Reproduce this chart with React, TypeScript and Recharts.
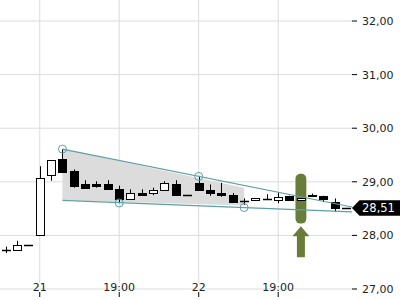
import {
  ComposedChart,
  Bar,
  Area,
  XAxis,
  YAxis,
  CartesianGrid,
  ReferenceLine,
  ReferenceDot,
  ReferenceArea,
} from 'recharts';

// candle values, one entry per bar (index 0..30)
const opens = [27.73, 27.73, 27.82, 28.0, 29.13, 29.43, 29.2, 28.96, 28.95, 28.96, 28.86, 28.68, 28.8, 28.79, 28.84, 28.95, 28.75, 28.97, 28.85, 28.79, 28.75, 28.65, 28.66, 28.67, 28.66, 28.74, 28.66, 28.76, 28.74, 28.63, 28.51];
const highs = [27.79, 27.9, 27.82, 29.29, 29.4, 29.61, 29.23, 29.03, 29.01, 29.03, 28.93, 28.86, 28.86, 28.89, 29.01, 29.03, 28.75, 29.11, 28.95, 28.98, 28.79, 28.69, 28.69, 28.77, 28.8, 28.74, 28.69, 28.78, 28.74, 28.69, 28.51];
const lows = [27.67, 27.73, 27.82, 28.0, 29.02, 29.19, 28.89, 28.89, 28.89, 28.86, 28.6, 28.68, 28.75, 28.75, 28.84, 28.75, 28.75, 28.84, 28.74, 28.72, 28.63, 28.57, 28.66, 28.67, 28.6, 28.66, 28.66, 28.74, 28.62, 28.44, 28.51];
const closes = [27.73, 27.82, 27.82, 29.08, 29.4, 29.19, 28.93, 28.89, 28.93, 28.86, 28.67, 28.8, 28.75, 28.84, 28.97, 28.75, 28.75, 28.84, 28.79, 28.75, 28.63, 28.65, 28.69, 28.67, 28.72, 28.66, 28.69, 28.74, 28.67, 28.52, 28.51];

const xTickIdx = [3, 10, 17, 24];
const xTickLabels = ['21', '19:00', '22', '19:00'];
const yTicks = [27, 28, 29, 30, 31, 32];

// wedge pattern
const wedgeIdx = [5, 21];
const wedgeTop = [29.61, 28.89];
const wedgeBottom = [28.655, 28.56];
const upperLine = [{ x: 5, y: 29.61 }, { x: 30.5, y: 28.53 }];
const lowerLine = [{ x: 5, y: 28.655 }, { x: 30.5, y: 28.44 }];
const touchIdx = [5, 17, 10, 21];
const touchVal = [29.61, 29.1, 28.605, 28.52];

// signal marker
const signalIdx = 26;
const signalRange = [28.22, 29.15];
const arrowTip = 28.17;
const lastPrice = 28.51;

const teal = '#5d9fa6';
const olive = '#6a7c3a';

const data = opens.map((open, i) => {
  const w = wedgeIdx.indexOf(i);
  return {
    i,
    open,
    close: closes[i],
    high: highs[i],
    low: lows[i],
    range: [lows[i], highs[i]],
    wedge: w >= 0 ? [wedgeBottom[w], wedgeTop[w]] : null,
  };
});

const fmt = (v: number) => v.toFixed(2).replace('.', ',');

function Candle(props: any) {
  const { x, y, width, height, payload } = props;
  const { open, close, high, low } = payload;
  const cx = Math.round(x + width / 2) + 0.5;
  const span = high - low;
  const yOf = (v: number) => (span > 0 ? y + ((high - v) / span) * height : y);
  const top = Math.round(yOf(Math.max(open, close))) + 0.5;
  const bottom = Math.round(yOf(Math.min(open, close))) + 0.5;
  return (
    <g>
      <line x1={cx} x2={cx} y1={yOf(high)} y2={yOf(low)} stroke="#000" />
      {bottom - top < 1 ? (
        <line x1={cx - 4.5} x2={cx + 4.5} y1={top} y2={top} stroke="#000" strokeWidth={1.5} />
      ) : (
        <rect x={cx - 4} y={top} width={8} height={bottom - top} fill={close > open ? '#fff' : '#000'} stroke="#000" />
      )}
    </g>
  );
}

function XTick(props: any) {
  const { x, y, payload } = props;
  const label = xTickLabels[xTickIdx.indexOf(payload.value)];
  return (
    <g>
      <text x={x} y={y - 8} textAnchor="middle" fontSize={11} fill="#222">
        {label}
      </text>
      <line x1={x} x2={x} y1={y - 7} y2={y - 2} stroke="#000" />
    </g>
  );
}

function SignalBar(props: any) {
  const { x, y, width, height } = props;
  return <rect x={x} y={y} width={width} height={height} rx={5} fill={olive} />;
}

function Arrow(props: any) {
  const { cx, cy } = props;
  const pts = [
    [cx, cy],
    [cx + 8.5, cy + 10],
    [cx + 4, cy + 10],
    [cx + 4, cy + 31],
    [cx - 4, cy + 31],
    [cx - 4, cy + 10],
    [cx - 8.5, cy + 10],
  ];
  return <polygon points={pts.map((p) => p.join(',')).join(' ')} fill={olive} />;
}

function PriceTag(props: any) {
  const { cx, cy } = props;
  const pts = [
    [cx, cy],
    [cx + 7.5, cy - 7.7],
    [400, cy - 7.7],
    [400, cy + 7.7],
    [cx + 7.5, cy + 7.7],
  ];
  return (
    <g>
      <polygon points={pts.map((p) => p.join(',')).join(' ')} fill="#000" />
      <text x={cx + 10} y={cy + 4} fontSize={11.5} fill="#fff">
        {fmt(lastPrice)}
      </text>
    </g>
  );
}

export default function App() {
  return (
    <div style={{ position: 'absolute', left: 0, top: 0, fontFamily: 'DejaVu Sans' }}>
      <ComposedChart width={400} height={300} data={data} margin={{ top: 0, right: 0, bottom: 0, left: 0 }}>
        <CartesianGrid horizontal={false} syncWithTicks y={0} height={283} stroke="#dcdcdc" />
        <CartesianGrid vertical={false} syncWithTicks stroke="#dcdcdc" />
        <XAxis
          dataKey="i"
          type="number"
          domain={[-0.5, 30.5]}
          ticks={xTickIdx}
          interval={0}
          height={1}
          tickSize={0}
          tickMargin={0}
          axisLine={false}
          tickLine={false}
          tick={<XTick />}
        />
        <YAxis
          orientation="right"
          width={48}
          domain={[26.8134, 32.392]}
          allowDataOverflow
          ticks={yTicks}
          interval={0}
          tickFormatter={fmt}
          tickSize={5}
          tickMargin={5}
          axisLine={false}
          tickLine={{ stroke: '#000' }}
          tick={{ fontSize: 11, fill: '#222' }}
        />
        <Area
          dataKey="wedge"
          type="linear"
          connectNulls
          stroke="none"
          fill="#dcdcdc"
          fillOpacity={1}
          dot={false}
          activeDot={false}
          isAnimationActive={false}
        />
        <ReferenceArea
          x1={signalIdx - 0.48}
          x2={signalIdx + 0.48}
          y1={signalRange[0]}
          y2={signalRange[1]}
          shape={<SignalBar />}
          ifOverflow="visible"
        />
        <Bar dataKey="range" barSize={9} shape={<Candle />} isAnimationActive={false} />
        <ReferenceLine segment={upperLine} stroke={teal} strokeWidth={1.2} ifOverflow="visible" />
        <ReferenceLine segment={lowerLine} stroke={teal} strokeWidth={1.2} ifOverflow="visible" />
        {touchIdx.map((ix, k) => (
          <ReferenceDot key={k} x={ix} y={touchVal[k]} r={4} fill="none" stroke={teal} strokeWidth={1} ifOverflow="visible" />
        ))}
        <ReferenceDot x={signalIdx} y={arrowTip} shape={<Arrow />} ifOverflow="visible" />
        <ReferenceDot x={30.5} y={lastPrice} shape={<PriceTag />} ifOverflow="visible" />
      </ComposedChart>
    </div>
  );
}
